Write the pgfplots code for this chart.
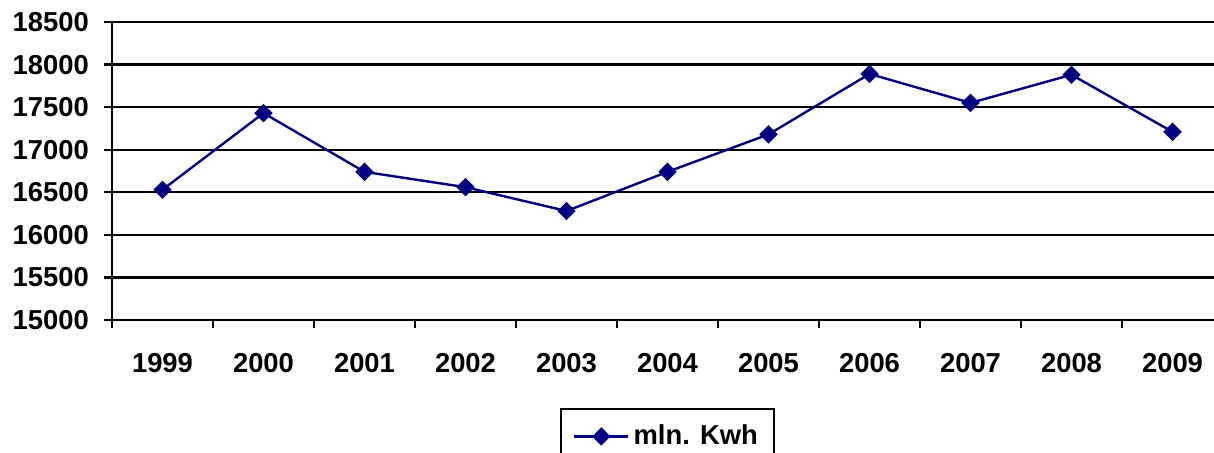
\documentclass[border=0pt]{standalone}
\usepackage{fontspec}
\setmainfont{Liberation Sans}
\usepackage{pgfplots}
\pgfplotsset{compat=1.18}
\definecolor{navyline}{RGB}{0,0,128}

\begin{document}
\begin{tikzpicture}
\begin{axis}[
  scale only axis,
  width=555.5pt, height=149pt,
  xmin=-0.5, xmax=10.5,
  ymin=15000, ymax=18500,
  ytick distance=500,
  scaled y ticks=false,
  xtick={-0.5,0.5,...,10.5},
  xticklabels={1999,2000,2001,2002,2003,2004,2005,2006,2007,2008,2009},
  x tick label as interval,
  axis lines*=left,
  axis line style={line width=1.1pt, black},
  tick align=outside,
  major tick length=4pt,
  tick style={line width=1.1pt, black},
  ymajorgrids=true,
  grid style={line width=1.1pt, black},
  /pgf/number format/assume math mode=true,
  /pgf/number format/1000 sep={},
  tick label style={font=\fontsize{13.7}{16}\selectfont\bfseries},
  yticklabel style={xshift=-4pt},
  xticklabel style={yshift=-9pt},
  legend style={
    at={(0.5,0)}, anchor=north, yshift=-44pt,
    draw=black, line width=1pt,
    font=\fontsize{13.7}{16}\selectfont\bfseries,
    inner xsep=6pt, inner ysep=6pt,
  },
  legend image code/.code={
    \draw[#1, mark=none] (0pt,0pt) -- (27pt,0pt);
    \draw[#1, only marks] plot coordinates {(13.5pt,0pt)};
  },
]
\addplot[color=navyline, line width=1.2pt, mark=square*,
  mark size=2.65pt, mark options={rotate=45, solid, fill=navyline}]
  coordinates {
    (0,16530) (1,17430) (2,16740) (3,16560) (4,16280) (5,16740)
    (6,17180) (7,17890) (8,17550) (9,17880) (10,17210)
  };
\legend{mln. Kwh}
\end{axis}
\pgfresetboundingbox
\path (-56pt,-66.5pt) rectangle (551pt,160pt);
\end{tikzpicture}
\end{document}
